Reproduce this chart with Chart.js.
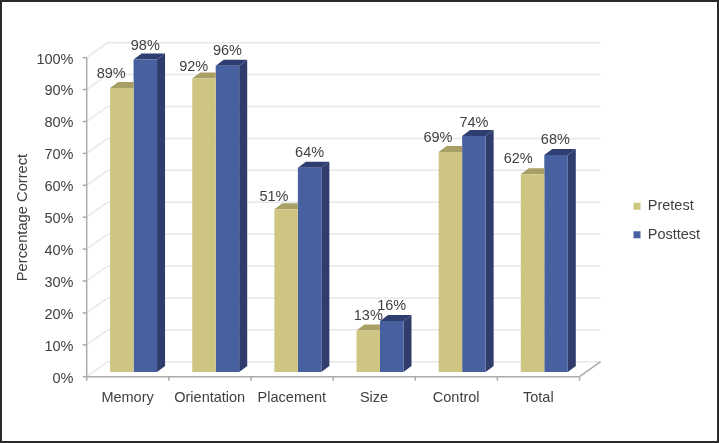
<!DOCTYPE html>
<html>
<head>
<meta charset="utf-8">
<style>
    html, body { margin: 0; padding: 0; background: #fff; }
    canvas { display: block; }
</style>
</head>
<body>
<canvas id="chart" width="719" height="443"></canvas>
<script src="https://cdn.jsdelivr.net/npm/chart.js@4"></script>
<script>
const categories = ["Memory", "Orientation", "Placement", "Size", "Control", "Total"];
const pretest = [89, 92, 51, 13, 69, 62];
const posttest = [98, 96, 64, 16, 74, 68];
const yTicks = [0, 10, 20, 30, 40, 50, 60, 70, 80, 90, 100];

const FONT = '"Liberation Sans", Arial, sans-serif';
const TEXT = "#3f3f3f";
// the bars sit in a plane between the front axes and the back wall
const front = { dx: -5.8, dy: 4.7 };
const back = { dx: 15.2, dy: -10.3 };
const depth = { dx: 8, dy: -6 };
// value labels were placed by hand in the original, [x, y] from the bar top
const labelNudge = [
    [[-10.6, -14], [-10.3, -12], [-12.2, -12.8], [0, -15], [-12.4, -13.7], [-14.3, -15]],
    [[0, -13], [0, -14.3], [0, -15.3], [0, -14.8], [0, -13.4], [-0.7, -15.2]],
];

function poly(ctx, pts, color) {
    ctx.fillStyle = color;
    ctx.beginPath();
    pts.forEach((p, i) => (i ? ctx.lineTo(p[0], p[1]) : ctx.moveTo(p[0], p[1])));
    ctx.closePath();
    ctx.fill();
}

function line(ctx, x1, y1, x2, y2) {
    ctx.beginPath();
    ctx.moveTo(x1, y1);
    ctx.lineTo(x2, y2);
    ctx.stroke();
}

const frame3d = {
    id: "frame3d",
    afterLayout(chart) {
        const legend = chart.legend;
        const w = legend.width;
        legend.left = 619.5;
        legend.right = 619.5 + w;
        legend.top = 185;
    },
    beforeDraw(chart) {
        const { ctx, width, height } = chart;
        ctx.save();
        ctx.fillStyle = "#fff";
        ctx.fillRect(0, 0, width, height);
        ctx.strokeStyle = "#2a2a2a";
        ctx.lineWidth = 2;
        ctx.strokeRect(1, 1, width - 2, height - 2);
        ctx.restore();
    },
    beforeDatasetsDraw(chart) {
        const { ctx, scales, chartArea } = chart;
        const left = chartArea.left + front.dx;
        const right = chartArea.right + front.dx;
        const bottom = scales.y.getPixelForValue(0) + front.dy;
        ctx.save();

        // back wall and left wall gridlines
        ctx.lineWidth = 1.5;
        ctx.strokeStyle = "#e8e8e8";
        yTicks.forEach((v) => {
            const y = scales.y.getPixelForValue(v);
            line(ctx, left, y + front.dy, chartArea.left + back.dx, y + back.dy);
            line(ctx, chartArea.left + back.dx, y + back.dy, chartArea.right + back.dx, y + back.dy);
        });

        // floor edge on the right and the front axes
        ctx.strokeStyle = "#ababab";
        line(ctx, right, bottom, chartArea.right + back.dx, bottom - 15);
        line(ctx, left, scales.y.top + front.dy, left, bottom);
        line(ctx, left, bottom, right, bottom);
        yTicks.forEach((v) => {
            const y = scales.y.getPixelForValue(v) + front.dy;
            line(ctx, left - 4, y, left, y);
        });
        for (let i = 0; i <= categories.length; i++) {
            const x = left + (i * (right - left)) / categories.length;
            line(ctx, x, bottom, x, bottom + 4);
        }

        // axis title sits lower than the scale's centre in the original
        ctx.translate(22.5, 217.5);
        ctx.rotate(-Math.PI / 2);
        ctx.font = "14.7px " + FONT;
        ctx.fillStyle = TEXT;
        ctx.textAlign = "center";
        ctx.textBaseline = "middle";
        ctx.fillText("Percentage Correct", 0, 0);
        ctx.restore();
    },
    beforeDatasetDraw(chart, args) {
        const { ctx } = chart;
        const ds = chart.data.datasets[args.index];
        ctx.save();
        args.meta.data.forEach((bar) => {
            const l = bar.x - bar.width / 2;
            const r = bar.x + bar.width / 2;
            if (args.index === 0) {
                // left bar of the pair: its right part is hidden by the taller bar next to it
                poly(ctx, [[l, bar.y], [l + depth.dx, bar.y + depth.dy], [r, bar.y + depth.dy], [r, bar.y]], ds.topColor);
                return;
            }
            poly(ctx, [[l, bar.y], [l + depth.dx, bar.y + depth.dy], [r + depth.dx, bar.y + depth.dy], [r, bar.y]], ds.topColor);
            poly(ctx, [[r, bar.y], [r + depth.dx, bar.y + depth.dy], [r + depth.dx, bar.base + depth.dy], [r, bar.base]], ds.sideColor);
        });
        ctx.restore();
    },
    afterDatasetsDraw(chart) {
        const { ctx } = chart;
        ctx.save();
        ctx.font = "14.5px " + FONT;
        ctx.fillStyle = TEXT;
        ctx.textAlign = "center";
        ctx.textBaseline = "middle";
        chart.data.datasets.forEach((ds, d) => {
            chart.getDatasetMeta(d).data.forEach((bar, i) => {
                const nudge = labelNudge[d][i];
                ctx.fillText(ds.data[i] + "%", bar.x + nudge[0], bar.y + nudge[1]);
            });
        });
        ctx.restore();
    },
};

new Chart(document.getElementById("chart"), {
    type: "bar",
    data: {
        labels: categories,
        datasets: [
            {
                label: "Pretest",
                data: pretest,
                backgroundColor: "#cfc583",
                topColor: "#a79f66",
            },
            {
                label: "Posttest",
                data: posttest,
                backgroundColor: "#47609f",
                topColor: "#2f3e70",
                sideColor: "#2f3c6c",
            },
        ],
    },
    options: {
        responsive: false,
        animation: false,
        categoryPercentage: 0.572,
        barPercentage: 1,
        layout: { padding: { top: 53, right: 43 } },
        plugins: {
            tooltip: { enabled: false },
            legend: {
                position: "right",
                align: "start",
                labels: {
                    boxWidth: 7,
                    boxHeight: 7,
                    padding: 14,
                    color: TEXT,
                    font: { family: FONT, size: 14.5 },
                },
            },
        },
        scales: {
            x: {
                grid: { display: false },
                border: { display: false },
                ticks: {
                    color: TEXT,
                    padding: 9,
                    labelOffset: -6,
                    maxRotation: 0,
                    font: { family: FONT, size: 14.5 },
                },
                afterFit(scale) {
                    scale.height = 71;
                },
            },
            y: {
                min: 0,
                max: 100,
                grid: { display: false },
                border: { display: false },
                ticks: {
                    stepSize: 10,
                    color: TEXT,
                    padding: 11,
                    labelOffset: 6.5,
                    font: { family: FONT, size: 14.5 },
                    callback: (v) => v + "%",
                },
                afterFit(scale) {
                    scale.width = 92.5;
                },
            },
        },
    },
    plugins: [frame3d],
});
</script>
</body>
</html>
